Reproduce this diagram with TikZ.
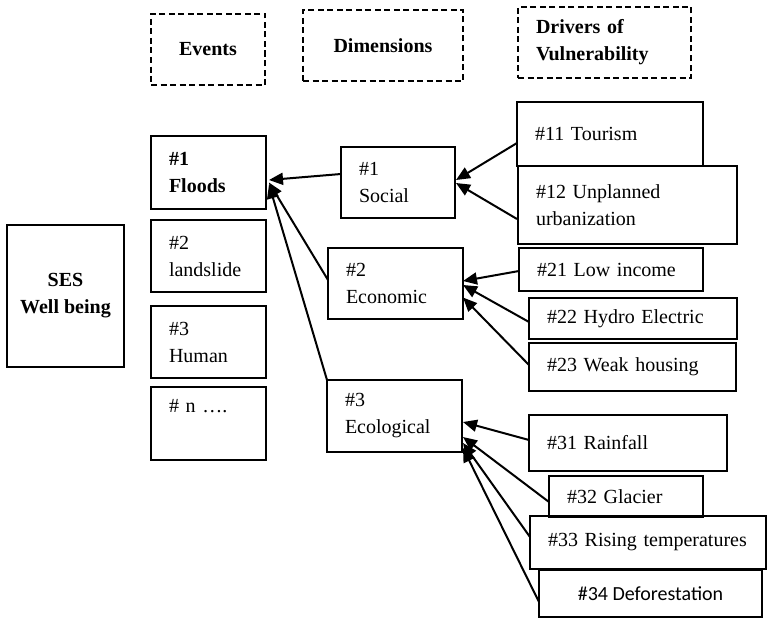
\documentclass[tikz,border=0pt]{standalone}
\usepackage{fontspec}
\setmainfont{Liberation Serif}
\newfontfamily\calibrifont{Carlito}
\usetikzlibrary{arrows.meta,calc}

\begin{document}
\begin{tikzpicture}[x=1pt,y=-1pt,
  every node/.style={outer sep=0pt},
  frame/.style={draw, line width=1.9pt, anchor=north west, inner ysep=0pt,
    font=\fontsize{20}{27}\selectfont},
  leftbox/.style={frame, inner xsep=18pt, align=left},
  midbox/.style={frame, inner xsep=0pt, align=center},
  header/.style={dash pattern=on 6pt off 3.5pt},
  link/.style={line width=2pt, -{Triangle[length=14pt,width=12pt]}}
]
\useasboundingbox (0,0) rectangle (767,618);

% column headers
\node[midbox, header, minimum width=114pt, minimum height=71pt] (events) at (151,14) {\textbf{Events}};
\node[midbox, header, minimum width=160pt, minimum height=71pt] (dims) at (303,10) {\textbf{Dimensions}};
\node[leftbox, header, text width=137pt, minimum height=71pt] (drivers) at (518,7) {\textbf{Drivers of}\\\textbf{Vulnerability}};

% well-being box
\node[midbox, minimum width=117pt, minimum height=142pt] (ses) at (7,225) {\textbf{SES}\\\textbf{Well being}};

% events
\node[leftbox, text width=79pt, minimum height=73pt] (floods) at (151,136) {\textbf{\#1}\\\textbf{Floods}};
\node[leftbox, text width=79pt, minimum height=72pt] (landslide) at (151,220) {\#2\\landslide};
\node[leftbox, text width=79pt, minimum height=72pt] (human) at (151,306) {\#3\\Human};
\node[leftbox, text width=79pt, minimum height=73pt] (nmore) at (151,387) {\# n ….\\\strut};

% dimensions
\node[leftbox, text width=78pt, minimum height=71pt] (social) at (341,147) {\#1\\Social};
\node[leftbox, text width=99pt, minimum height=71pt] (economic) at (328,248) {\#2\\Economic};
\node[leftbox, text width=99pt, minimum height=72pt] (ecological) at (327,380) {\#3\\Ecological};

% drivers of vulnerability
\node[leftbox, text width=150pt, minimum height=64pt] (tourism) at (517,102) {\#11 Tourism};
\node[leftbox, text width=183pt, minimum height=78pt] (unplanned) at (518,166) {\#12 Unplanned\\urbanization};
\node[leftbox, text width=148pt, minimum height=43pt] (lowinc) at (519,248) {\#21 Low income};
\node[leftbox, text width=172pt, minimum height=41pt] (hydro) at (529,298) {\#22 Hydro Electric};
\node[leftbox, text width=171pt, minimum height=48pt] (weak) at (529,343) {\#23 Weak housing};
\node[leftbox, text width=162pt, minimum height=56pt] (rain) at (529,415) {\#31 Rainfall};
\node[leftbox, text width=118pt, minimum height=41pt] (glacier) at (549,476) {\#32 Glacier};
\node[leftbox, text width=200pt, minimum height=53pt] (rising) at (530,516) {\#33 Rising temperatures};
\node[midbox, minimum width=223pt, minimum height=47pt,
  font=\calibrifont\fontsize{20}{27}\selectfont] (defor) at (539,570) {\#34 Deforestation};

% dimensions -> event
\draw[link] ($(social.west)+(0,-8.5)$) -- ($(floods.east)+(3,7.5)$);
\draw[link] ($(economic.west)+(0,-3.5)$) -- ($(floods.east)+(3,10)$);
\draw[link] (ecological.north west) -- ($(floods.east)+(3,12)$);

% drivers -> dimensions
\draw[link] ($(tourism.west)+(0,9)$) -- ($(social.east)+(1,-2.5)$);
\draw[link] ($(unplanned.west)+(-1,14)$) -- ($(social.east)+(1,0.5)$);
\draw[link] ($(lowinc.west)+(0,1.5)$) -- ($(economic.east)+(0,-2.5)$);
\draw[link] ($(hydro.west)+(0,3.5)$) -- ($(economic.east)+(0,1.5)$);
\draw[link] ($(weak.west)+(0,-2)$) -- ($(economic.east)+(0,14)$);
\draw[link] ($(rain.west)+(0,-3)$) -- ($(ecological.east)+(1,6)$);
\draw[link] ($(glacier.west)+(0,5.5)$) -- ($(ecological.east)+(1,21)$);
\draw[link] ($(rising.west)+(0,-5.5)$) -- ($(ecological.east)+(1,27)$);
\draw[link] ($(defor.west)+(0,8.5)$) -- ($(ecological.east)+(1,32)$);
\end{tikzpicture}
\end{document}
